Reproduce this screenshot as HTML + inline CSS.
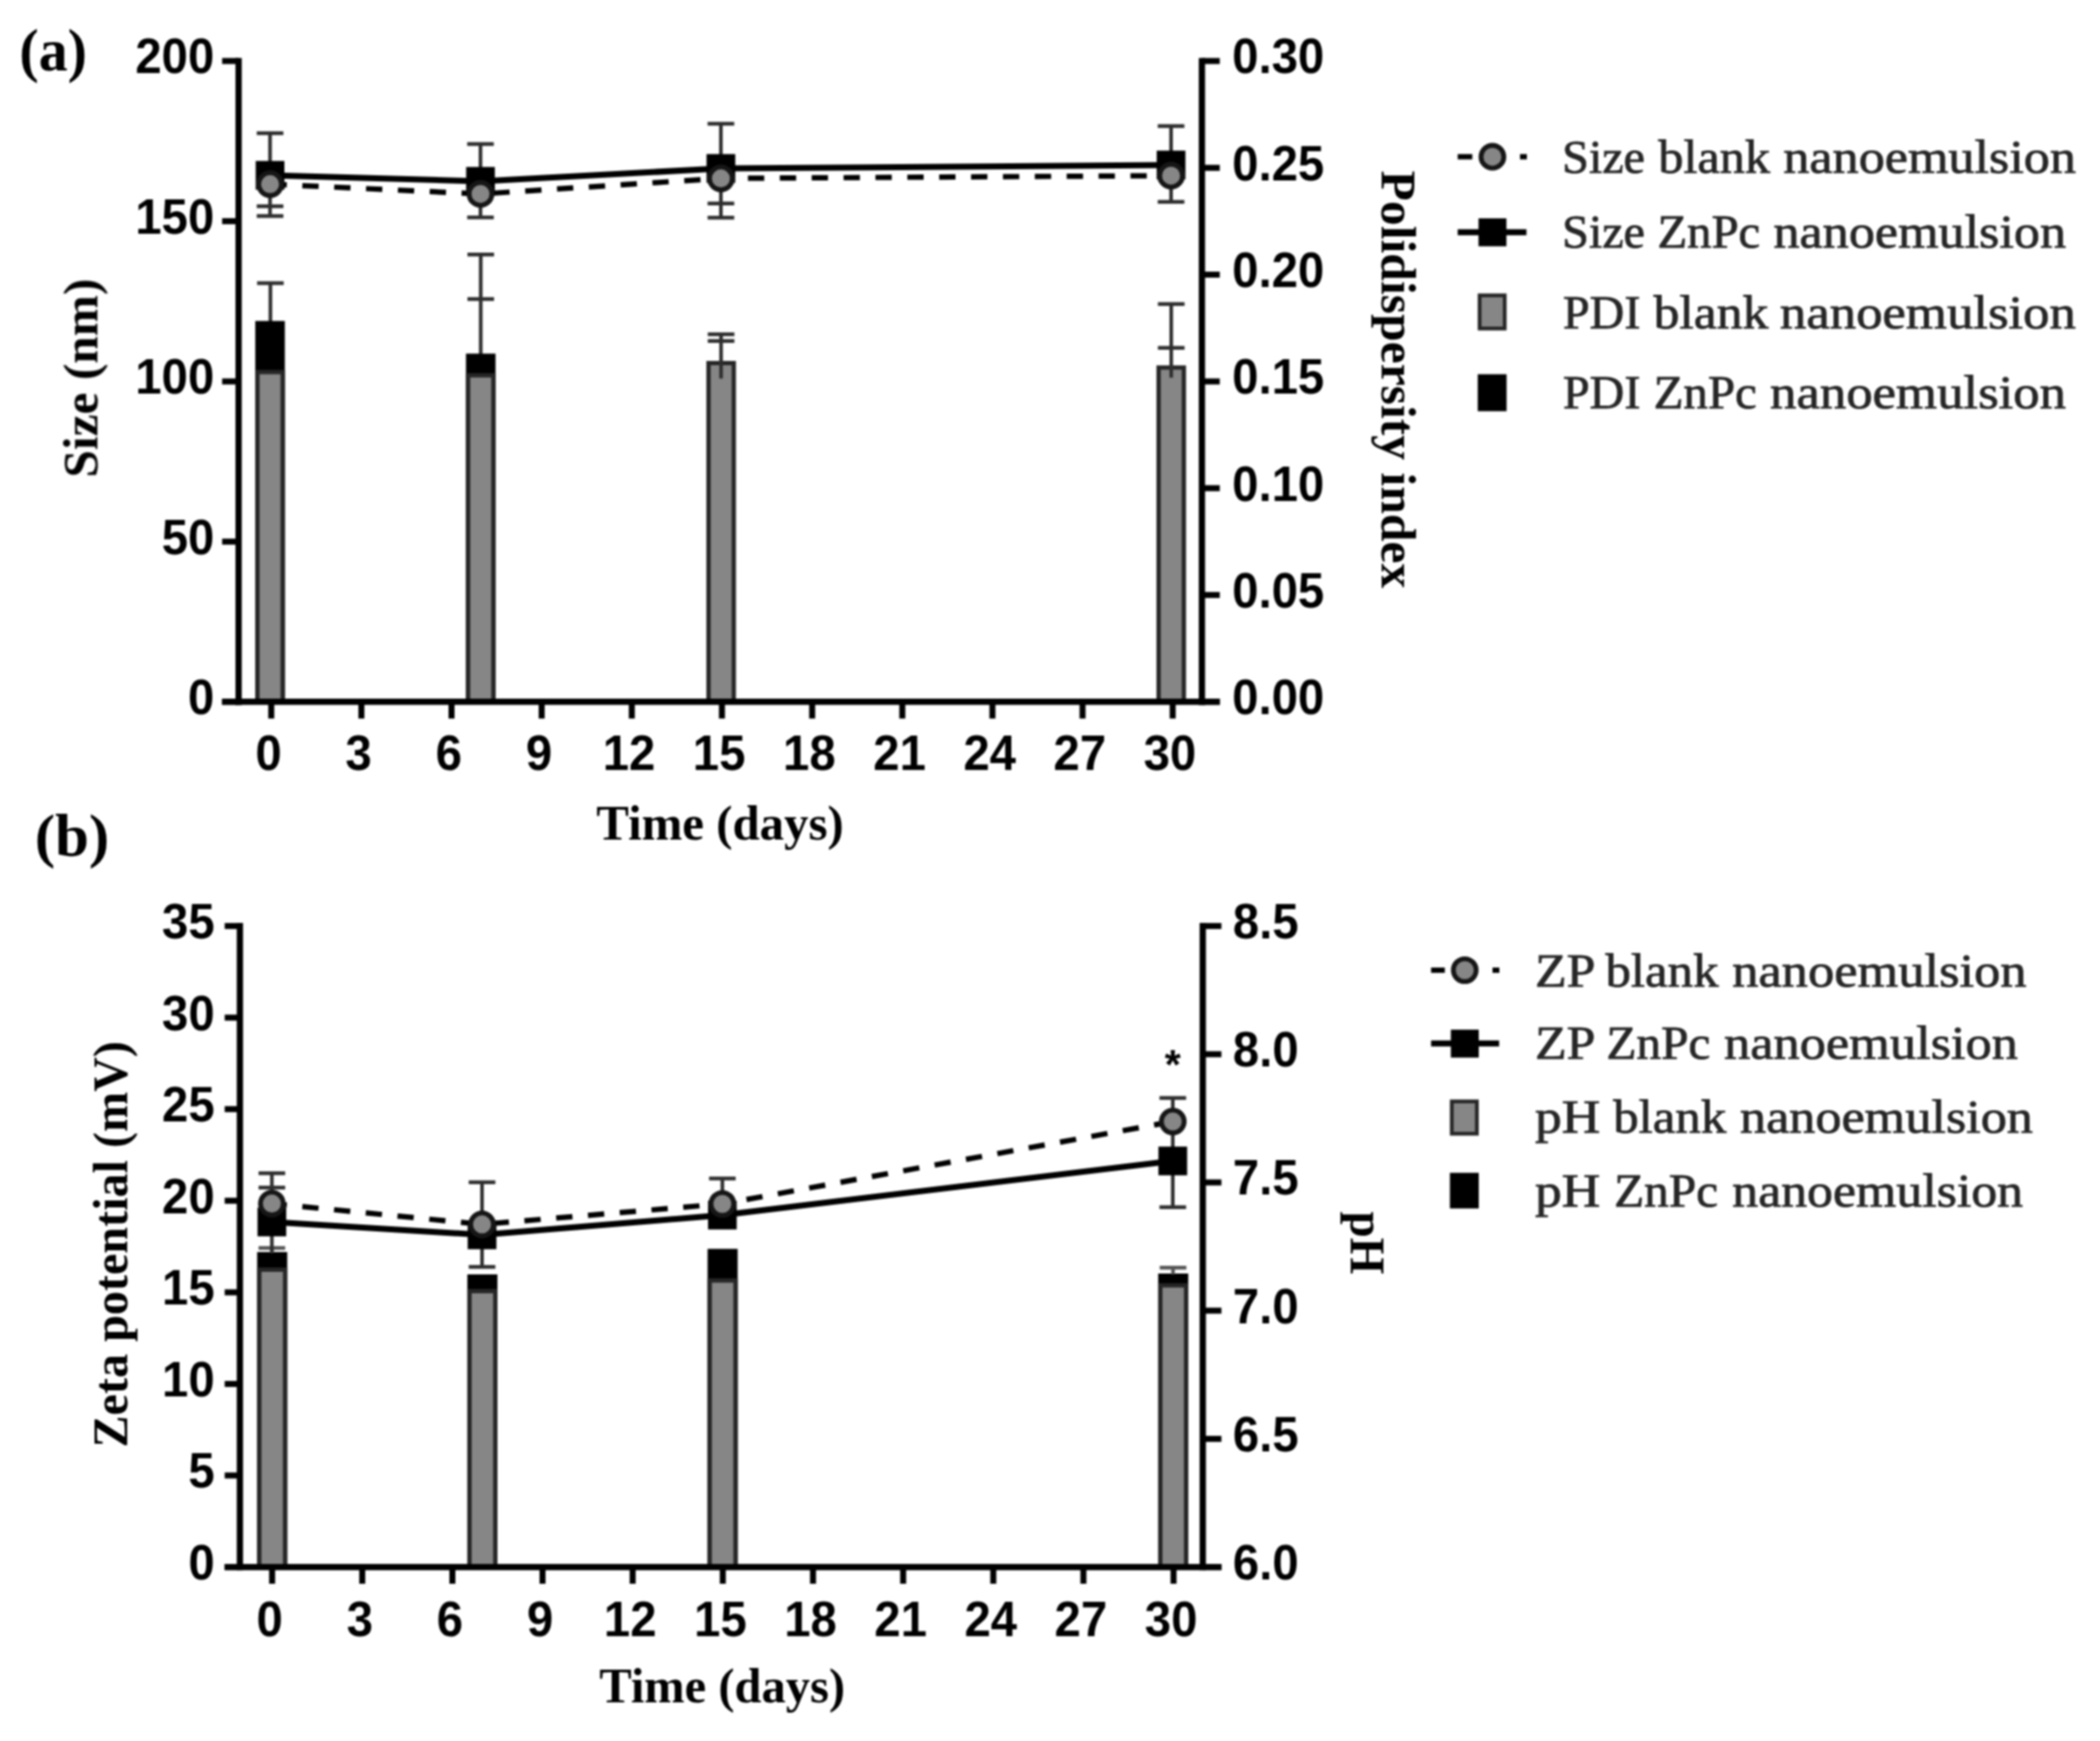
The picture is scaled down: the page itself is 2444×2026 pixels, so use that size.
<!DOCTYPE html>
<html lang="en">
<head>
<meta charset="utf-8">
<title>Nanoemulsion stability figure</title>
<style>
html,body{margin:0;padding:0;background:#fff;}
body{width:2444px;height:2026px;overflow:hidden;}
svg{display:block;}
#fig{filter:blur(0.85px);}
</style>
</head>
<body>
<svg role="img" aria-label="Stability of blank and ZnPc nanoemulsions over 30 days" width="2444" height="2026" viewBox="0 0 2444 2026">
<rect x="0" y="0" width="2444" height="2026" fill="#fff"/>
<g id="fig" stroke-linecap="butt">
<!-- (a) size and polydispersity index -->
<g id="chart-a">
<line x1="314.7" y1="329.5" x2="314.7" y2="380.0" stroke="#2e2e2e" stroke-width="4.2" />
<line x1="299.2" y1="329.5" x2="330.2" y2="329.5" stroke="#2e2e2e" stroke-width="4.4" />
<line x1="559.5" y1="296.2" x2="559.5" y2="415.0" stroke="#2e2e2e" stroke-width="4.2" />
<line x1="544.0" y1="296.2" x2="575.0" y2="296.2" stroke="#2e2e2e" stroke-width="4.4" />
<line x1="544.0" y1="348.0" x2="575.0" y2="348.0" stroke="#2e2e2e" stroke-width="4.4" />
<rect x="297.1" y="373.5" width="34.4" height="443.2" fill="#000" />
<rect x="299.6" y="433.0" width="29.4" height="383.7" fill="#868686" stroke="#262626" stroke-width="5.0" />
<rect x="542.3" y="411.5" width="34.4" height="405.2" fill="#000" />
<rect x="544.8" y="436.8" width="29.4" height="379.9" fill="#868686" stroke="#262626" stroke-width="5.0" />
<rect x="824.6" y="422.5" width="29.4" height="394.2" fill="#868686" stroke="#262626" stroke-width="5.0" />
<rect x="1348.4" y="427.7" width="29.4" height="389.0" fill="#868686" stroke="#262626" stroke-width="5.0" />
<line x1="839.2" y1="389.0" x2="839.2" y2="440.5" stroke="#2e2e2e" stroke-width="4.2" />
<line x1="823.7" y1="389.0" x2="854.7" y2="389.0" stroke="#2e2e2e" stroke-width="4.4" />
<line x1="823.7" y1="396.8" x2="854.7" y2="396.8" stroke="#2e2e2e" stroke-width="4.4" />
<line x1="1363.1" y1="353.8" x2="1363.1" y2="439.5" stroke="#2e2e2e" stroke-width="4.2" />
<line x1="1347.6" y1="353.8" x2="1378.6" y2="353.8" stroke="#2e2e2e" stroke-width="4.4" />
<line x1="1347.6" y1="404.8" x2="1378.6" y2="404.8" stroke="#2e2e2e" stroke-width="4.4" />
<line x1="314.3" y1="155.0" x2="314.3" y2="251.4" stroke="#2e2e2e" stroke-width="4.2" />
<line x1="298.8" y1="155.0" x2="329.8" y2="155.0" stroke="#2e2e2e" stroke-width="4.4" />
<line x1="298.8" y1="240.0" x2="329.8" y2="240.0" stroke="#2e2e2e" stroke-width="4.4" />
<line x1="298.8" y1="251.4" x2="329.8" y2="251.4" stroke="#2e2e2e" stroke-width="4.4" />
<line x1="559.2" y1="167.6" x2="559.2" y2="253.0" stroke="#2e2e2e" stroke-width="4.2" />
<line x1="543.7" y1="167.6" x2="574.7" y2="167.6" stroke="#2e2e2e" stroke-width="4.4" />
<line x1="543.7" y1="253.0" x2="574.7" y2="253.0" stroke="#2e2e2e" stroke-width="4.4" />
<line x1="839.0" y1="144.0" x2="839.0" y2="253.3" stroke="#2e2e2e" stroke-width="4.2" />
<line x1="823.5" y1="144.0" x2="854.5" y2="144.0" stroke="#2e2e2e" stroke-width="4.4" />
<line x1="823.5" y1="236.8" x2="854.5" y2="236.8" stroke="#2e2e2e" stroke-width="4.4" />
<line x1="823.5" y1="253.3" x2="854.5" y2="253.3" stroke="#2e2e2e" stroke-width="4.4" />
<line x1="1362.9" y1="146.7" x2="1362.9" y2="234.9" stroke="#2e2e2e" stroke-width="4.2" />
<line x1="1347.4" y1="146.7" x2="1378.4" y2="146.7" stroke="#2e2e2e" stroke-width="4.4" />
<line x1="1347.4" y1="234.9" x2="1378.4" y2="234.9" stroke="#2e2e2e" stroke-width="4.4" />
<polyline points="314.3,214.3 559.2,225.7 839.0,207.6 1362.9,204.4" fill="none" stroke="#000" stroke-width="6.2" stroke-dasharray="19 18.1" stroke-dashoffset="-0.5"/>
<polyline points="314.3,204.0 559.2,211.0 839.0,196.0 1362.9,192.0" fill="none" stroke="#000" stroke-width="7.0"/>
<rect x="297.6" y="187.3" width="33.4" height="33.4" fill="#000" />
<rect x="542.5" y="194.3" width="33.4" height="33.4" fill="#000" />
<rect x="822.3" y="179.3" width="33.4" height="33.4" fill="#000" />
<rect x="1346.2" y="175.3" width="33.4" height="33.4" fill="#000" />
<circle cx="314.3" cy="214.3" r="13.3" fill="#868686" stroke="#161616" stroke-width="5.6"/>
<circle cx="559.2" cy="225.7" r="13.3" fill="#868686" stroke="#161616" stroke-width="5.6"/>
<circle cx="839.0" cy="207.6" r="13.3" fill="#868686" stroke="#161616" stroke-width="5.6"/>
<circle cx="1362.9" cy="204.4" r="13.3" fill="#868686" stroke="#161616" stroke-width="5.6"/>
<line x1="277.7" y1="67.5" x2="277.7" y2="820.4" stroke="#000" stroke-width="7.3" />
<line x1="1398.8" y1="67.5" x2="1398.8" y2="820.4" stroke="#000" stroke-width="7.3" />
<line x1="258.5" y1="816.7" x2="1419.6" y2="816.7" stroke="#000" stroke-width="7.3" />
<line x1="258.5" y1="71.0" x2="277.7" y2="71.0" stroke="#000" stroke-width="7.0" />
<text transform="translate(249.4 85.4) scale(0.95 1)" font-family="'Liberation Sans', Arial, sans-serif" font-size="58" font-weight="bold" text-anchor="end" fill="#000">200</text>
<line x1="258.5" y1="257.4" x2="277.7" y2="257.4" stroke="#000" stroke-width="7.0" />
<text transform="translate(249.4 271.8) scale(0.95 1)" font-family="'Liberation Sans', Arial, sans-serif" font-size="58" font-weight="bold" text-anchor="end" fill="#000">150</text>
<line x1="258.5" y1="443.9" x2="277.7" y2="443.9" stroke="#000" stroke-width="7.0" />
<text transform="translate(249.4 458.2) scale(0.95 1)" font-family="'Liberation Sans', Arial, sans-serif" font-size="58" font-weight="bold" text-anchor="end" fill="#000">100</text>
<line x1="258.5" y1="630.3" x2="277.7" y2="630.3" stroke="#000" stroke-width="7.0" />
<text transform="translate(249.4 644.7) scale(0.95 1)" font-family="'Liberation Sans', Arial, sans-serif" font-size="58" font-weight="bold" text-anchor="end" fill="#000">50</text>
<line x1="258.5" y1="816.7" x2="277.7" y2="816.7" stroke="#000" stroke-width="7.0" />
<text transform="translate(249.4 831.1) scale(0.95 1)" font-family="'Liberation Sans', Arial, sans-serif" font-size="58" font-weight="bold" text-anchor="end" fill="#000">0</text>
<line x1="1398.8" y1="71.0" x2="1419.6" y2="71.0" stroke="#000" stroke-width="7.0" />
<text transform="translate(1434.0 85.4) scale(0.95 1)" font-family="'Liberation Sans', Arial, sans-serif" font-size="58" font-weight="bold" text-anchor="start" fill="#000">0.30</text>
<line x1="1398.8" y1="195.3" x2="1419.6" y2="195.3" stroke="#000" stroke-width="7.0" />
<text transform="translate(1434.0 209.7) scale(0.95 1)" font-family="'Liberation Sans', Arial, sans-serif" font-size="58" font-weight="bold" text-anchor="start" fill="#000">0.25</text>
<line x1="1398.8" y1="319.6" x2="1419.6" y2="319.6" stroke="#000" stroke-width="7.0" />
<text transform="translate(1434.0 334.0) scale(0.95 1)" font-family="'Liberation Sans', Arial, sans-serif" font-size="58" font-weight="bold" text-anchor="start" fill="#000">0.20</text>
<line x1="1398.8" y1="443.9" x2="1419.6" y2="443.9" stroke="#000" stroke-width="7.0" />
<text transform="translate(1434.0 458.3) scale(0.95 1)" font-family="'Liberation Sans', Arial, sans-serif" font-size="58" font-weight="bold" text-anchor="start" fill="#000">0.15</text>
<line x1="1398.8" y1="568.1" x2="1419.6" y2="568.1" stroke="#000" stroke-width="7.0" />
<text transform="translate(1434.0 582.5) scale(0.95 1)" font-family="'Liberation Sans', Arial, sans-serif" font-size="58" font-weight="bold" text-anchor="start" fill="#000">0.10</text>
<line x1="1398.8" y1="692.4" x2="1419.6" y2="692.4" stroke="#000" stroke-width="7.0" />
<text transform="translate(1434.0 706.8) scale(0.95 1)" font-family="'Liberation Sans', Arial, sans-serif" font-size="58" font-weight="bold" text-anchor="start" fill="#000">0.05</text>
<line x1="1398.8" y1="816.7" x2="1419.6" y2="816.7" stroke="#000" stroke-width="7.0" />
<text transform="translate(1434.0 831.1) scale(0.95 1)" font-family="'Liberation Sans', Arial, sans-serif" font-size="58" font-weight="bold" text-anchor="start" fill="#000">0.00</text>
<line x1="315.7" y1="816.7" x2="315.7" y2="836.2" stroke="#000" stroke-width="7.0" />
<text transform="translate(312.5 896.3) scale(0.95 1)" font-family="'Liberation Sans', Arial, sans-serif" font-size="58" font-weight="bold" text-anchor="middle" fill="#000">0</text>
<line x1="420.6" y1="816.7" x2="420.6" y2="836.2" stroke="#000" stroke-width="7.0" />
<text transform="translate(417.4 896.3) scale(0.95 1)" font-family="'Liberation Sans', Arial, sans-serif" font-size="58" font-weight="bold" text-anchor="middle" fill="#000">3</text>
<line x1="525.5" y1="816.7" x2="525.5" y2="836.2" stroke="#000" stroke-width="7.0" />
<text transform="translate(522.3 896.3) scale(0.95 1)" font-family="'Liberation Sans', Arial, sans-serif" font-size="58" font-weight="bold" text-anchor="middle" fill="#000">6</text>
<line x1="630.4" y1="816.7" x2="630.4" y2="836.2" stroke="#000" stroke-width="7.0" />
<text transform="translate(627.2 896.3) scale(0.95 1)" font-family="'Liberation Sans', Arial, sans-serif" font-size="58" font-weight="bold" text-anchor="middle" fill="#000">9</text>
<line x1="735.3" y1="816.7" x2="735.3" y2="836.2" stroke="#000" stroke-width="7.0" />
<text transform="translate(732.1 896.3) scale(0.95 1)" font-family="'Liberation Sans', Arial, sans-serif" font-size="58" font-weight="bold" text-anchor="middle" fill="#000">12</text>
<line x1="840.2" y1="816.7" x2="840.2" y2="836.2" stroke="#000" stroke-width="7.0" />
<text transform="translate(837.0 896.3) scale(0.95 1)" font-family="'Liberation Sans', Arial, sans-serif" font-size="58" font-weight="bold" text-anchor="middle" fill="#000">15</text>
<line x1="945.2" y1="816.7" x2="945.2" y2="836.2" stroke="#000" stroke-width="7.0" />
<text transform="translate(942.0 896.3) scale(0.95 1)" font-family="'Liberation Sans', Arial, sans-serif" font-size="58" font-weight="bold" text-anchor="middle" fill="#000">18</text>
<line x1="1050.1" y1="816.7" x2="1050.1" y2="836.2" stroke="#000" stroke-width="7.0" />
<text transform="translate(1046.9 896.3) scale(0.95 1)" font-family="'Liberation Sans', Arial, sans-serif" font-size="58" font-weight="bold" text-anchor="middle" fill="#000">21</text>
<line x1="1155.0" y1="816.7" x2="1155.0" y2="836.2" stroke="#000" stroke-width="7.0" />
<text transform="translate(1151.8 896.3) scale(0.95 1)" font-family="'Liberation Sans', Arial, sans-serif" font-size="58" font-weight="bold" text-anchor="middle" fill="#000">24</text>
<line x1="1259.9" y1="816.7" x2="1259.9" y2="836.2" stroke="#000" stroke-width="7.0" />
<text transform="translate(1256.7 896.3) scale(0.95 1)" font-family="'Liberation Sans', Arial, sans-serif" font-size="58" font-weight="bold" text-anchor="middle" fill="#000">27</text>
<line x1="1364.8" y1="816.7" x2="1364.8" y2="836.2" stroke="#000" stroke-width="7.0" />
<text transform="translate(1361.6 896.3) scale(0.95 1)" font-family="'Liberation Sans', Arial, sans-serif" font-size="58" font-weight="bold" text-anchor="middle" fill="#000">30</text>
<text x="838.0" y="977.0" font-family="'Liberation Serif', 'DejaVu Serif', serif" font-size="57" font-weight="bold" text-anchor="middle" fill="#000" textLength="288.0" lengthAdjust="spacingAndGlyphs">Time (days)</text>
<text x="113.3" y="440.0" font-family="'Liberation Serif', 'DejaVu Serif', serif" font-size="58" font-weight="bold" text-anchor="middle" fill="#000" textLength="231.6" lengthAdjust="spacingAndGlyphs" transform="rotate(-90 113.3 440.0)">Size (nm)</text>
<text x="1608.3" y="441.6" font-family="'Liberation Serif', 'DejaVu Serif', serif" font-size="58" font-weight="bold" text-anchor="middle" fill="#000" textLength="486.0" lengthAdjust="spacingAndGlyphs" transform="rotate(90 1608.3 441.6)">Polidispersity index</text>
<text x="22.5" y="82.0" font-family="'Liberation Serif', 'DejaVu Serif', serif" font-size="70" font-weight="bold" text-anchor="start" fill="#000" textLength="78.8" lengthAdjust="spacingAndGlyphs">(a)</text>
<line x1="1696.5" y1="182.4" x2="1713.5" y2="182.4" stroke="#000" stroke-width="6.2" />
<line x1="1769.0" y1="182.4" x2="1777.0" y2="182.4" stroke="#000" stroke-width="6.2" />
<circle cx="1736.9" cy="182.4" r="13.3" fill="#868686" stroke="#161616" stroke-width="5.6"/>
<line x1="1696.5" y1="270.3" x2="1776.5" y2="270.3" stroke="#000" stroke-width="7.0" />
<rect x="1720.7" y="254.1" width="32.5" height="32.5" fill="#000" />
<rect x="1722.0" y="343.7" width="29.2" height="38.6" fill="#868686" stroke="#262626" stroke-width="4.4" />
<rect x="1719.8" y="435.5" width="33.6" height="43.0" fill="#000" />
<text y="201.0" font-family="'Liberation Serif', 'DejaVu Serif', serif" font-size="54.5" font-weight="normal" fill="#262626" stroke="#262626" stroke-width="0.9" ><tspan x="1818.0" textLength="96.5" lengthAdjust="spacingAndGlyphs">Size</tspan> <tspan x="1930.0" textLength="130.0" lengthAdjust="spacingAndGlyphs">blank</tspan> <tspan x="2075.5" textLength="340.5" lengthAdjust="spacingAndGlyphs">nanoemulsion</tspan></text>
<text y="288.0" font-family="'Liberation Serif', 'DejaVu Serif', serif" font-size="54.5" font-weight="normal" fill="#262626" stroke="#262626" stroke-width="0.9" ><tspan x="1818.0" textLength="96.5" lengthAdjust="spacingAndGlyphs">Size</tspan> <tspan x="1929.0" textLength="119.5" lengthAdjust="spacingAndGlyphs">ZnPc</tspan> <tspan x="2064.0" textLength="340.5" lengthAdjust="spacingAndGlyphs">nanoemulsion</tspan></text>
<text y="382.0" font-family="'Liberation Serif', 'DejaVu Serif', serif" font-size="54.5" font-weight="normal" fill="#262626" stroke="#262626" stroke-width="0.9" ><tspan x="1819.0" textLength="90.0" lengthAdjust="spacingAndGlyphs">PDI</tspan> <tspan x="1924.5" textLength="133.5" lengthAdjust="spacingAndGlyphs">blank</tspan> <tspan x="2071.5" textLength="344.5" lengthAdjust="spacingAndGlyphs">nanoemulsion</tspan></text>
<text y="475.0" font-family="'Liberation Serif', 'DejaVu Serif', serif" font-size="54.5" font-weight="normal" fill="#262626" stroke="#262626" stroke-width="0.9" ><tspan x="1819.0" textLength="90.0" lengthAdjust="spacingAndGlyphs">PDI</tspan> <tspan x="1924.5" textLength="120.0" lengthAdjust="spacingAndGlyphs">ZnPc</tspan> <tspan x="2060.0" textLength="344.5" lengthAdjust="spacingAndGlyphs">nanoemulsion</tspan></text>
</g>
<!-- (b) zeta potential and pH -->
<g id="chart-b">
<rect x="299.3" y="1457.0" width="35.0" height="366.6" fill="#000" />
<rect x="301.8" y="1477.5" width="30.0" height="346.1" fill="#868686" stroke="#262626" stroke-width="5.0" />
<rect x="543.9" y="1483.0" width="35.0" height="340.6" fill="#000" />
<rect x="546.4" y="1502.5" width="30.0" height="321.1" fill="#868686" stroke="#262626" stroke-width="5.0" />
<rect x="823.5" y="1453.3" width="35.0" height="370.3" fill="#000" />
<rect x="826.0" y="1490.1" width="30.0" height="333.5" fill="#868686" stroke="#262626" stroke-width="5.0" />
<rect x="1347.9" y="1482.0" width="35.0" height="341.6" fill="#000" />
<rect x="1350.4" y="1495.8" width="30.0" height="327.8" fill="#868686" stroke="#262626" stroke-width="5.0" />
<line x1="316.4" y1="1450.0" x2="316.4" y2="1458.0" stroke="#555" stroke-width="4.2" />
<line x1="300.9" y1="1452.3" x2="331.9" y2="1452.3" stroke="#555" stroke-width="4.4" />
<line x1="1365.2" y1="1475.2" x2="1365.2" y2="1483.0" stroke="#555" stroke-width="4.2" />
<line x1="1349.7" y1="1475.2" x2="1380.7" y2="1475.2" stroke="#555" stroke-width="4.4" />
<line x1="316.4" y1="1365.3" x2="316.4" y2="1457.0" stroke="#2e2e2e" stroke-width="4.2" />
<line x1="300.9" y1="1365.3" x2="331.9" y2="1365.3" stroke="#2e2e2e" stroke-width="4.4" />
<line x1="300.9" y1="1382.0" x2="331.9" y2="1382.0" stroke="#2e2e2e" stroke-width="4.4" />
<line x1="561.0" y1="1375.8" x2="561.0" y2="1474.3" stroke="#2e2e2e" stroke-width="4.2" />
<line x1="545.5" y1="1375.8" x2="576.5" y2="1375.8" stroke="#2e2e2e" stroke-width="4.4" />
<line x1="545.5" y1="1474.3" x2="576.5" y2="1474.3" stroke="#2e2e2e" stroke-width="4.4" />
<line x1="840.7" y1="1371.4" x2="840.7" y2="1425.0" stroke="#2e2e2e" stroke-width="4.2" />
<line x1="825.2" y1="1371.4" x2="856.2" y2="1371.4" stroke="#2e2e2e" stroke-width="4.4" />
<line x1="1364.9" y1="1277.7" x2="1364.9" y2="1404.8" stroke="#2e2e2e" stroke-width="4.2" />
<line x1="1349.4" y1="1277.7" x2="1380.4" y2="1277.7" stroke="#2e2e2e" stroke-width="4.4" />
<line x1="1349.4" y1="1404.8" x2="1380.4" y2="1404.8" stroke="#2e2e2e" stroke-width="4.4" />
<polyline points="316.4,1400.6 561.0,1424.8 840.7,1401.0 1364.9,1305.1" fill="none" stroke="#000" stroke-width="6.2" stroke-dasharray="19 18.1" stroke-dashoffset="1.5"/>
<polyline points="316.4,1422.0 561.0,1437.0 840.7,1414.0 1364.9,1351.0" fill="none" stroke="#000" stroke-width="7.0"/>
<rect x="299.7" y="1405.3" width="33.4" height="33.4" fill="#000" />
<rect x="544.3" y="1420.3" width="33.4" height="33.4" fill="#000" />
<rect x="824.0" y="1397.3" width="33.4" height="33.4" fill="#000" />
<rect x="1348.2" y="1334.3" width="33.4" height="33.4" fill="#000" />
<circle cx="316.4" cy="1400.6" r="13.3" fill="#868686" stroke="#161616" stroke-width="5.6"/>
<circle cx="561.0" cy="1424.8" r="13.3" fill="#868686" stroke="#161616" stroke-width="5.6"/>
<circle cx="840.7" cy="1401.0" r="13.3" fill="#868686" stroke="#161616" stroke-width="5.6"/>
<circle cx="1364.9" cy="1305.1" r="13.3" fill="#868686" stroke="#161616" stroke-width="5.6"/>
<text x="1364.8" y="1254.5" font-family="'Liberation Sans', Arial, sans-serif" font-size="48" font-weight="bold" text-anchor="middle" fill="#000">*</text>
<line x1="279.2" y1="1074.1" x2="279.2" y2="1827.2" stroke="#000" stroke-width="7.3" />
<line x1="1399.8" y1="1074.1" x2="1399.8" y2="1827.2" stroke="#000" stroke-width="7.3" />
<line x1="261.5" y1="1823.6" x2="1421.5" y2="1823.6" stroke="#000" stroke-width="7.3" />
<line x1="261.5" y1="1077.6" x2="279.2" y2="1077.6" stroke="#000" stroke-width="7.0" />
<text transform="translate(249.8 1092.0) scale(0.95 1)" font-family="'Liberation Sans', Arial, sans-serif" font-size="58" font-weight="bold" text-anchor="end" fill="#000">35</text>
<line x1="261.5" y1="1184.2" x2="279.2" y2="1184.2" stroke="#000" stroke-width="7.0" />
<text transform="translate(249.8 1198.6) scale(0.95 1)" font-family="'Liberation Sans', Arial, sans-serif" font-size="58" font-weight="bold" text-anchor="end" fill="#000">30</text>
<line x1="261.5" y1="1290.7" x2="279.2" y2="1290.7" stroke="#000" stroke-width="7.0" />
<text transform="translate(249.8 1305.1) scale(0.95 1)" font-family="'Liberation Sans', Arial, sans-serif" font-size="58" font-weight="bold" text-anchor="end" fill="#000">25</text>
<line x1="261.5" y1="1397.3" x2="279.2" y2="1397.3" stroke="#000" stroke-width="7.0" />
<text transform="translate(249.8 1411.7) scale(0.95 1)" font-family="'Liberation Sans', Arial, sans-serif" font-size="58" font-weight="bold" text-anchor="end" fill="#000">20</text>
<line x1="261.5" y1="1503.9" x2="279.2" y2="1503.9" stroke="#000" stroke-width="7.0" />
<text transform="translate(249.8 1518.3) scale(0.95 1)" font-family="'Liberation Sans', Arial, sans-serif" font-size="58" font-weight="bold" text-anchor="end" fill="#000">15</text>
<line x1="261.5" y1="1610.5" x2="279.2" y2="1610.5" stroke="#000" stroke-width="7.0" />
<text transform="translate(249.8 1624.9) scale(0.95 1)" font-family="'Liberation Sans', Arial, sans-serif" font-size="58" font-weight="bold" text-anchor="end" fill="#000">10</text>
<line x1="261.5" y1="1717.0" x2="279.2" y2="1717.0" stroke="#000" stroke-width="7.0" />
<text transform="translate(249.8 1731.4) scale(0.95 1)" font-family="'Liberation Sans', Arial, sans-serif" font-size="58" font-weight="bold" text-anchor="end" fill="#000">5</text>
<line x1="261.5" y1="1823.6" x2="279.2" y2="1823.6" stroke="#000" stroke-width="7.0" />
<text transform="translate(249.8 1838.0) scale(0.95 1)" font-family="'Liberation Sans', Arial, sans-serif" font-size="58" font-weight="bold" text-anchor="end" fill="#000">0</text>
<line x1="1399.8" y1="1077.6" x2="1421.5" y2="1077.6" stroke="#000" stroke-width="7.0" />
<text transform="translate(1434.8 1092.0) scale(0.95 1)" font-family="'Liberation Sans', Arial, sans-serif" font-size="58" font-weight="bold" text-anchor="start" fill="#000">8.5</text>
<line x1="1399.8" y1="1226.8" x2="1421.5" y2="1226.8" stroke="#000" stroke-width="7.0" />
<text transform="translate(1434.8 1241.2) scale(0.95 1)" font-family="'Liberation Sans', Arial, sans-serif" font-size="58" font-weight="bold" text-anchor="start" fill="#000">8.0</text>
<line x1="1399.8" y1="1376.0" x2="1421.5" y2="1376.0" stroke="#000" stroke-width="7.0" />
<text transform="translate(1434.8 1390.4) scale(0.95 1)" font-family="'Liberation Sans', Arial, sans-serif" font-size="58" font-weight="bold" text-anchor="start" fill="#000">7.5</text>
<line x1="1399.8" y1="1525.2" x2="1421.5" y2="1525.2" stroke="#000" stroke-width="7.0" />
<text transform="translate(1434.8 1539.6) scale(0.95 1)" font-family="'Liberation Sans', Arial, sans-serif" font-size="58" font-weight="bold" text-anchor="start" fill="#000">7.0</text>
<line x1="1399.8" y1="1674.4" x2="1421.5" y2="1674.4" stroke="#000" stroke-width="7.0" />
<text transform="translate(1434.8 1688.8) scale(0.95 1)" font-family="'Liberation Sans', Arial, sans-serif" font-size="58" font-weight="bold" text-anchor="start" fill="#000">6.5</text>
<line x1="1399.8" y1="1823.6" x2="1421.5" y2="1823.6" stroke="#000" stroke-width="7.0" />
<text transform="translate(1434.8 1838.0) scale(0.95 1)" font-family="'Liberation Sans', Arial, sans-serif" font-size="58" font-weight="bold" text-anchor="start" fill="#000">6.0</text>
<line x1="316.7" y1="1823.6" x2="316.7" y2="1843.0" stroke="#000" stroke-width="7.0" />
<text transform="translate(313.8 1903.5) scale(0.95 1)" font-family="'Liberation Sans', Arial, sans-serif" font-size="58" font-weight="bold" text-anchor="middle" fill="#000">0</text>
<line x1="421.6" y1="1823.6" x2="421.6" y2="1843.0" stroke="#000" stroke-width="7.0" />
<text transform="translate(418.7 1903.5) scale(0.95 1)" font-family="'Liberation Sans', Arial, sans-serif" font-size="58" font-weight="bold" text-anchor="middle" fill="#000">3</text>
<line x1="526.5" y1="1823.6" x2="526.5" y2="1843.0" stroke="#000" stroke-width="7.0" />
<text transform="translate(523.6 1903.5) scale(0.95 1)" font-family="'Liberation Sans', Arial, sans-serif" font-size="58" font-weight="bold" text-anchor="middle" fill="#000">6</text>
<line x1="631.4" y1="1823.6" x2="631.4" y2="1843.0" stroke="#000" stroke-width="7.0" />
<text transform="translate(628.5 1903.5) scale(0.95 1)" font-family="'Liberation Sans', Arial, sans-serif" font-size="58" font-weight="bold" text-anchor="middle" fill="#000">9</text>
<line x1="736.3" y1="1823.6" x2="736.3" y2="1843.0" stroke="#000" stroke-width="7.0" />
<text transform="translate(733.4 1903.5) scale(0.95 1)" font-family="'Liberation Sans', Arial, sans-serif" font-size="58" font-weight="bold" text-anchor="middle" fill="#000">12</text>
<line x1="841.2" y1="1823.6" x2="841.2" y2="1843.0" stroke="#000" stroke-width="7.0" />
<text transform="translate(838.4 1903.5) scale(0.95 1)" font-family="'Liberation Sans', Arial, sans-serif" font-size="58" font-weight="bold" text-anchor="middle" fill="#000">15</text>
<line x1="946.2" y1="1823.6" x2="946.2" y2="1843.0" stroke="#000" stroke-width="7.0" />
<text transform="translate(943.3 1903.5) scale(0.95 1)" font-family="'Liberation Sans', Arial, sans-serif" font-size="58" font-weight="bold" text-anchor="middle" fill="#000">18</text>
<line x1="1051.1" y1="1823.6" x2="1051.1" y2="1843.0" stroke="#000" stroke-width="7.0" />
<text transform="translate(1048.2 1903.5) scale(0.95 1)" font-family="'Liberation Sans', Arial, sans-serif" font-size="58" font-weight="bold" text-anchor="middle" fill="#000">21</text>
<line x1="1156.0" y1="1823.6" x2="1156.0" y2="1843.0" stroke="#000" stroke-width="7.0" />
<text transform="translate(1153.1 1903.5) scale(0.95 1)" font-family="'Liberation Sans', Arial, sans-serif" font-size="58" font-weight="bold" text-anchor="middle" fill="#000">24</text>
<line x1="1260.9" y1="1823.6" x2="1260.9" y2="1843.0" stroke="#000" stroke-width="7.0" />
<text transform="translate(1258.0 1903.5) scale(0.95 1)" font-family="'Liberation Sans', Arial, sans-serif" font-size="58" font-weight="bold" text-anchor="middle" fill="#000">27</text>
<line x1="1365.8" y1="1823.6" x2="1365.8" y2="1843.0" stroke="#000" stroke-width="7.0" />
<text transform="translate(1362.9 1903.5) scale(0.95 1)" font-family="'Liberation Sans', Arial, sans-serif" font-size="58" font-weight="bold" text-anchor="middle" fill="#000">30</text>
<text x="840.5" y="1981.0" font-family="'Liberation Serif', 'DejaVu Serif', serif" font-size="57" font-weight="bold" text-anchor="middle" fill="#000" textLength="286.0" lengthAdjust="spacingAndGlyphs">Time (days)</text>
<text x="148.0" y="1448.0" font-family="'Liberation Serif', 'DejaVu Serif', serif" font-size="58" font-weight="bold" text-anchor="middle" fill="#000" textLength="473.0" lengthAdjust="spacingAndGlyphs" transform="rotate(-90 148.0 1448.0)">Zeta potential (mV)</text>
<text x="1572.3" y="1446.3" font-family="'Liberation Serif', 'DejaVu Serif', serif" font-size="58" font-weight="bold" text-anchor="middle" fill="#000" textLength="73.0" lengthAdjust="spacingAndGlyphs" transform="rotate(90 1572.3 1446.3)">pH</text>
<text x="40.4" y="996.0" font-family="'Liberation Serif', 'DejaVu Serif', serif" font-size="70" font-weight="bold" text-anchor="start" fill="#000" textLength="86.8" lengthAdjust="spacingAndGlyphs">(b)</text>
<line x1="1665.5" y1="1129.0" x2="1681.5" y2="1129.0" stroke="#000" stroke-width="6.2" />
<line x1="1737.0" y1="1129.0" x2="1745.0" y2="1129.0" stroke="#000" stroke-width="6.2" />
<circle cx="1704.7" cy="1129.0" r="13.3" fill="#868686" stroke="#161616" stroke-width="5.6"/>
<line x1="1665.5" y1="1214.3" x2="1744.7" y2="1214.3" stroke="#000" stroke-width="7.0" />
<rect x="1688.5" y="1198.2" width="32.5" height="32.5" fill="#000" />
<rect x="1689.6" y="1281.7" width="29.2" height="37.6" fill="#868686" stroke="#262626" stroke-width="4.4" />
<rect x="1687.4" y="1364.8" width="33.6" height="41.5" fill="#000" />
<text y="1147.6" font-family="'Liberation Serif', 'DejaVu Serif', serif" font-size="54.5" font-weight="normal" fill="#262626" stroke="#262626" stroke-width="0.9" ><tspan x="1786.5" textLength="68.0" lengthAdjust="spacingAndGlyphs">ZP</tspan> <tspan x="1868.5" textLength="131.5" lengthAdjust="spacingAndGlyphs">blank</tspan> <tspan x="2016.0" textLength="342.5" lengthAdjust="spacingAndGlyphs">nanoemulsion</tspan></text>
<text y="1231.6" font-family="'Liberation Serif', 'DejaVu Serif', serif" font-size="54.5" font-weight="normal" fill="#262626" stroke="#262626" stroke-width="0.9" ><tspan x="1786.5" textLength="68.0" lengthAdjust="spacingAndGlyphs">ZP</tspan> <tspan x="1869.5" textLength="121.0" lengthAdjust="spacingAndGlyphs">ZnPc</tspan> <tspan x="2006.5" textLength="342.0" lengthAdjust="spacingAndGlyphs">nanoemulsion</tspan></text>
<text y="1317.5" font-family="'Liberation Serif', 'DejaVu Serif', serif" font-size="54.5" font-weight="normal" fill="#262626" stroke="#262626" stroke-width="0.9" ><tspan x="1786.5" textLength="76.0" lengthAdjust="spacingAndGlyphs">pH</tspan> <tspan x="1877.5" textLength="131.5" lengthAdjust="spacingAndGlyphs">blank</tspan> <tspan x="2025.0" textLength="341.0" lengthAdjust="spacingAndGlyphs">nanoemulsion</tspan></text>
<text y="1404.0" font-family="'Liberation Serif', 'DejaVu Serif', serif" font-size="54.5" font-weight="normal" fill="#262626" stroke="#262626" stroke-width="0.9" ><tspan x="1786.5" textLength="76.0" lengthAdjust="spacingAndGlyphs">pH</tspan> <tspan x="1878.5" textLength="121.0" lengthAdjust="spacingAndGlyphs">ZnPc</tspan> <tspan x="2016.0" textLength="338.5" lengthAdjust="spacingAndGlyphs">nanoemulsion</tspan></text>
</g>
</g>
</svg>
</body>
</html>
